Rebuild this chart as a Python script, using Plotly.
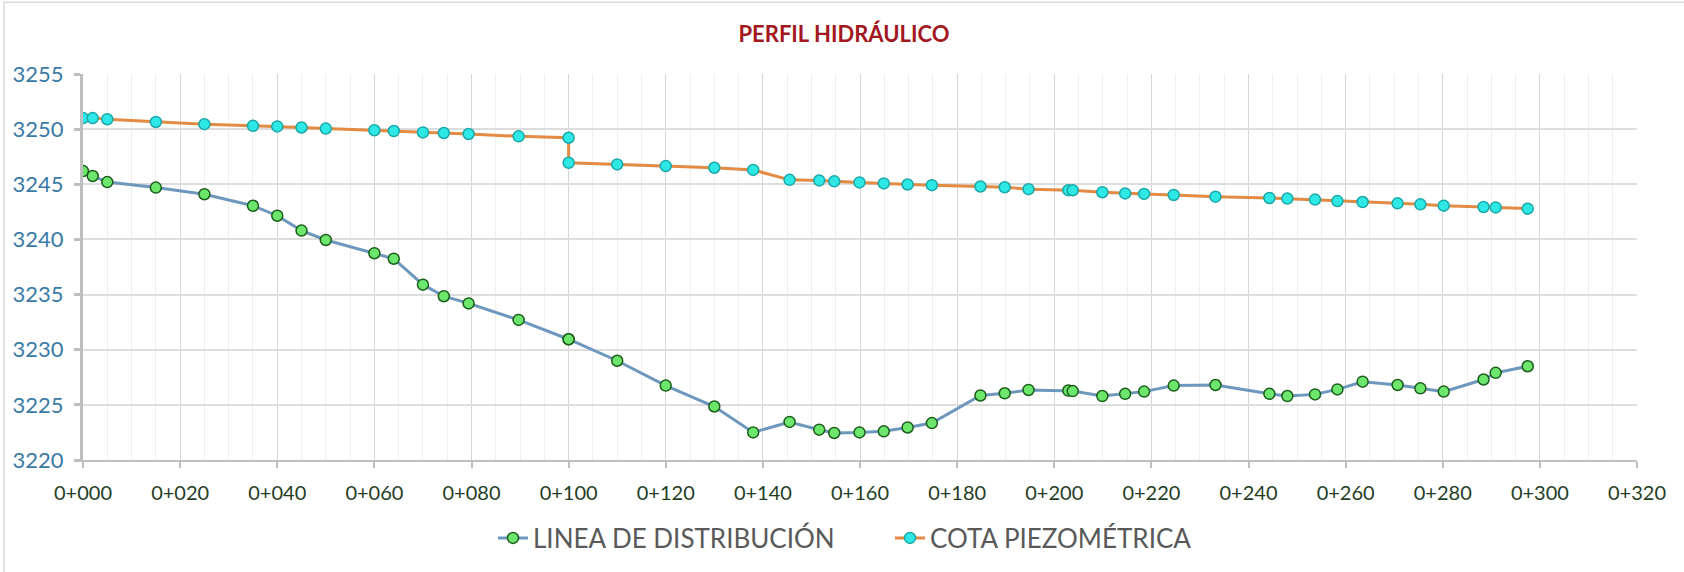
import plotly.graph_objects as go

# Progresivas (m) de cada nodo; en 0+100 la cota piezométrica tiene un salto
estaciones = [0, 2, 5, 15, 25, 35, 40, 45, 50, 60, 64, 70, 74.3, 79.4, 89.7,
              100, 100, 110, 120, 130, 138, 145.5, 151.6, 154.7, 159.9, 164.9,
              169.8, 174.8, 184.8, 189.8, 194.7, 202.9, 203.8, 209.9, 214.6,
              218.5, 224.6, 233.2, 244.3, 248.0, 253.7, 258.3, 263.5, 270.7,
              275.4, 280.2, 288.4, 290.9, 297.5]

# Cota del terreno a lo largo de la línea de distribución (m.s.n.m.)
linea_distribucion = [3246.2, 3245.75, 3245.2, 3244.7, 3244.1, 3243.05, 3242.15,
                      3240.8, 3239.95, 3238.75, 3238.25, 3235.9, 3234.85, 3234.2,
                      3232.7, 3230.95, 3230.95, 3229.0, 3226.75, 3224.85, 3222.5,
                      3223.45, 3222.75, 3222.45, 3222.5, 3222.6, 3222.95, 3223.35,
                      3225.85, 3226.05, 3226.35, 3226.3, 3226.25, 3225.8, 3226.0,
                      3226.2, 3226.75, 3226.8, 3226.0, 3225.8, 3225.95, 3226.4,
                      3227.1, 3226.8, 3226.5, 3226.2, 3227.3, 3227.9, 3228.5]

# Cota piezométrica (m.s.n.m.)
cota_piezometrica = [3251.0, 3251.0, 3250.9, 3250.65, 3250.45, 3250.3, 3250.25,
                     3250.15, 3250.05, 3249.9, 3249.83, 3249.7, 3249.65, 3249.56,
                     3249.35, 3249.22, 3246.95, 3246.8, 3246.65, 3246.5, 3246.3,
                     3245.4, 3245.35, 3245.27, 3245.17, 3245.08, 3244.98, 3244.92,
                     3244.8, 3244.73, 3244.56, 3244.47, 3244.46, 3244.28, 3244.17,
                     3244.13, 3244.03, 3243.88, 3243.76, 3243.7, 3243.61, 3243.48,
                     3243.39, 3243.27, 3243.18, 3243.06, 3242.94, 3242.9, 3242.79]

# Marcas del eje de progresivas
ticks_x = list(range(0, 321, 20))
etiquetas_x = [f"{v // 1000}+{v % 1000:03d}" for v in ticks_x]
ticks_y = list(range(3220, 3256, 5))

W, H = 1684, 572
ML, MR, MT, MB = 83, 47, 74, 111
PW, PH = W - ML - MR, H - MT - MB

FUENTE = "Lato"

fig = go.Figure()

fig.add_trace(go.Scatter(
    x=estaciones, y=linea_distribucion,
    mode="lines+markers",
    name="LINEA DE DISTRIBUCIÓN",
    line=dict(color="#6E97BD", width=3),
    marker=dict(size=11, color="#6CE66C", line=dict(color="#1B5E1B", width=1.5)),
))

fig.add_trace(go.Scatter(
    x=estaciones, y=cota_piezometrica,
    mode="lines+markers",
    name="COTA PIEZOMÉTRICA",
    line=dict(color="#E38A43", width=3),
    marker=dict(size=11, color="#2EE8E6", line=dict(color="#1AA8A8", width=1.5)),
))

# Borde del área del gráfico
fig.add_shape(
    type="rect", xref="paper", yref="paper",
    x0=(4 - ML) / PW, x1=(W + 10 - ML) / PW,
    y0=(MT + PH - (H + 10)) / PH, y1=(MT + PH - 2) / PH,
    line=dict(color="#D9D9D9", width=1.5), fillcolor="rgba(0,0,0,0)", layer="below",
)

fig.update_layout(
    width=W, height=H,
    margin=dict(l=ML, r=MR, t=MT, b=MB),
    paper_bgcolor="white", plot_bgcolor="white",
    font=dict(family=FUENTE),
    title=dict(
        text="<b>PERFIL HIDRÁULICO</b>",
        font=dict(family=FUENTE, size=22, color="#A3171F"),
        x=(844 - ML) / PW, xref="paper", xanchor="center",
        y=1 - 34 / H, yref="container", yanchor="middle",
    ),
    showlegend=True,
    legend=dict(
        orientation="h",
        x=(890 - ML) / PW, xanchor="center",
        y=(MT + PH - 538) / PH, yanchor="middle",
        font=dict(family=FUENTE, size=26, color="#595959"),
        itemwidth=30,
        entrywidth=352, entrywidthmode="pixels",
        bgcolor="rgba(0,0,0,0)",
    ),
    xaxis=dict(
        range=[0, 320],
        tickvals=ticks_x, ticktext=etiquetas_x,
        tickfont=dict(family=FUENTE, size=20, color="#1F3D1F"),
        ticklabelstandoff=8,
        showgrid=True, gridcolor="#D6D6D6", gridwidth=1.2,
        minor=dict(dtick=5, showgrid=True, gridcolor="#EFEFEF", gridwidth=1),
        showline=True, linecolor="#BFBFBF", linewidth=2,
        ticks="outside", ticklen=6, tickcolor="#BFBFBF", tickwidth=2,
        zeroline=False,
    ),
    yaxis=dict(
        range=[3220, 3255],
        tickvals=ticks_y,
        tickfont=dict(family=FUENTE, size=22, color="#3A7AA6"),
        showgrid=True, gridcolor="#DDDDDD", gridwidth=1.5,
        showline=True, linecolor="#BFBFBF", linewidth=3,
        ticks="outside", ticklen=6, tickcolor="#BFBFBF", tickwidth=3,
        ticklabelstandoff=6,
        zeroline=False,
    ),
)

fig.write_html("out.html")
